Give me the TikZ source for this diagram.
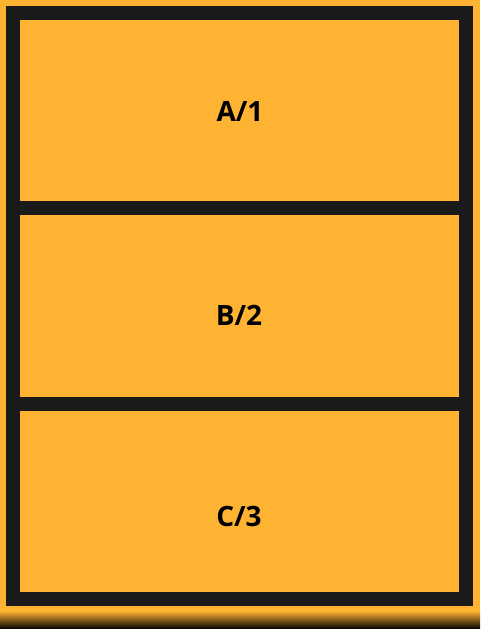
\documentclass[tikz,border=0pt]{standalone}
\usepackage{fontspec}
\setmainfont{Open Sans}
\definecolor{bgor}{HTML}{FFB333}
\definecolor{frameblk}{HTML}{1A1A1A}
\tikzset{
  cell/.style={draw=frameblk, line width=14pt, fill=bgor},
  lbl/.style={font=\fontsize{28}{32}\selectfont\bfseries, text=black, inner sep=0pt},
}
\begin{document}
\begin{tikzpicture}[x=1pt,y=-1pt]
  \fill[bgor] (0,0) rectangle (480,629);
  \useasboundingbox (0,0) rectangle (480,629);
  \shade[top color=bgor, bottom color=black] (0,611) rectangle (480,629);
  \draw[cell] (13,13) rectangle (466,208);
  \draw[cell] (13,208) rectangle (466,404);
  \draw[cell] (13,404) rectangle (466,599);
  \node[lbl] (a) at (240,111) {A/1};
  \node[lbl] (b) at (239,315.5) {B/2};
  \node[lbl] (c) at (239,516) {C/3};
\end{tikzpicture}
\end{document}
